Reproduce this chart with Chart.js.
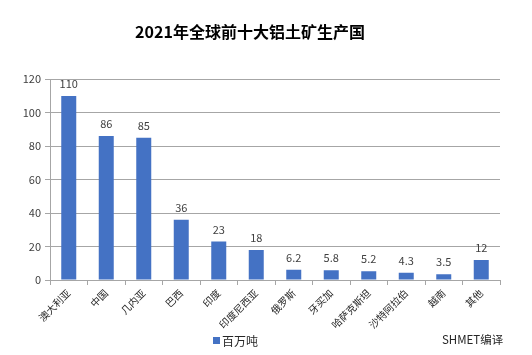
<!DOCTYPE html>
<html>
<head>
<meta charset="utf-8">
<script src="https://cdn.jsdelivr.net/npm/chart.js@4/dist/chart.umd.min.js"></script>
<style>
html,body{margin:0;padding:0;background:#fff;}
#wrap{width:532px;height:355px;position:relative;}
</style>
</head>
<body>
<div id="wrap"><canvas id="c" width="532" height="355"></canvas></div>
<script>
const categories = ['澳大利亚','中国','几内亚','巴西','印度','印度尼西亚','俄罗斯','牙买加','哈萨克斯坦','沙特阿拉伯','越南','其他'];
const values = [110, 86, 85, 36, 23, 18, 6.2, 5.8, 5.2, 4.3, 3.5, 12];
const valueLabels = ['110','86','85','36','23','18','6.2','5.8','5.2','4.3','3.5','12'];
const yTicks = [0, 20, 40, 60, 80, 100, 120];
const seriesName = '百万吨';
const titleText = '2021年全球前十大铝土矿生产国';
const sourceText = 'SHMET编译';

const FONT = '"Noto Sans CJK SC", "Microsoft YaHei", sans-serif';
const BAR = '#4472C4';

const extras = {
  id: 'extras',
  afterDatasetsDraw(chart) {
    const ctx = chart.ctx;
    const meta = chart.getDatasetMeta(0);
    ctx.save();
    ctx.font = '11px ' + FONT;
    ctx.fillStyle = '#404040';
    ctx.textAlign = 'center';
    ctx.textBaseline = 'alphabetic';
    meta.data.forEach((bar, i) => {
      ctx.fillText(valueLabels[i], bar.x, bar.y - 8);
    });
    // legend
    ctx.fillStyle = BAR;
    ctx.fillRect(213, 337, 7, 7);
    ctx.fillStyle = '#262626';
    ctx.font = '12px ' + FONT;
    ctx.textAlign = 'left';
    ctx.textBaseline = 'middle';
    ctx.fillText(seriesName, 222, 341);
    // source
    ctx.fillStyle = '#262626';
    ctx.font = '11.5px ' + FONT;
    ctx.fillText(sourceText, 442, 340);
    ctx.restore();
  }
};

new Chart(document.getElementById('c'), {
  type: 'bar',
  data: {
    labels: categories,
    datasets: [{
      label: seriesName,
      data: values,
      backgroundColor: BAR,
      borderWidth: 0,
      barPercentage: 0.4,
      categoryPercentage: 1.0
    }]
  },
  options: {
    responsive: false,
    animation: false,
    devicePixelRatio: 1,
    layout: { padding: { left: 0, right: 32, top: 0, bottom: 0 } },
    plugins: {
      legend: { display: false },
      tooltip: { enabled: false },
      title: {
        display: true,
        text: titleText,
        color: '#000',
        font: { family: FONT, size: 16, weight: 'bold', lineHeight: 1.2 },
        padding: { top: 22, bottom: 38 }
      }
    },
    scales: {
      x: {
        afterFit(scale) { scale.height = 75; },
        grid: {
          display: true,
          offset: true,
          drawOnChartArea: false,
          drawTicks: true,
          tickLength: 5,
          color: '#a6a6a6'
        },
        border: { display: true, color: '#a6a6a6' },
        ticks: {
          autoSkip: false,
          maxRotation: 45,
          minRotation: 45,
          color: '#262626',
          font: { family: FONT, size: 10 },
          padding: 2
        }
      },
      y: {
        min: 0,
        max: 120,
        afterFit(scale) { scale.width = 50; },
        afterBuildTicks(scale) { scale.ticks = yTicks.map(v => ({ value: v })); },
        grid: {
          color: '#a6a6a6',
          drawTicks: true,
          tickLength: 5
        },
        border: { display: true, color: '#a6a6a6' },
        ticks: {
          color: '#404040',
          font: { family: FONT, size: 11 },
          padding: 4
        }
      }
    }
  },
  plugins: [extras]
});
</script>
</body>
</html>
